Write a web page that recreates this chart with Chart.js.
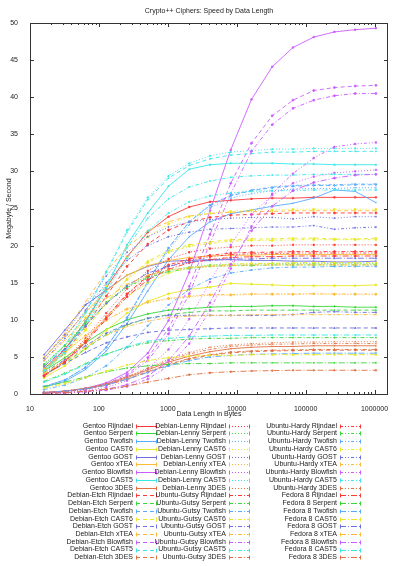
<!DOCTYPE html>
<html>
<head>
<meta charset="utf-8">
<script src="https://cdn.jsdelivr.net/npm/chart.js@4.4.1/dist/chart.umd.min.js"></script>
<style>
  html, body { margin: 0; padding: 0; background: #fff; }
</style>
</head>
<body>
<canvas id="chart" width="400" height="566"></canvas>
<script>
// =========================================================
// DATA
// =========================================================
const lengths = [16, 32, 64, 128, 256, 512, 1024, 2048, 4096, 8192, 16384, 32768, 65536, 131072, 262144, 524288, 1048576];
const xTickValues = [10, 100, 1000, 10000, 100000, 1000000];
const yTickValues = [0, 5, 10, 15, 20, 25, 30, 35, 40, 45, 50];

const distros = ["Gentoo", "Debian-Etch", "Debian-Lenny", "Ubuntu-Gutsy", "Ubuntu-Hardy", "Fedora 8"];
const ciphers = ["Rijndael", "Serpent", "Twofish", "CAST6", "GOST", "xTEA", "Blowfish", "CAST5", "3DES"];

// one row per cipher, in the order above (MB/s)
const gentoo = [
  [3.4, 6.0, 9.8, 14.3, 18.5, 21.8, 23.9, 25.2, 25.9, 26.1, 26.3, 26.4, 26.4, 26.5, 26.5, 26.5, 26.5],
  [3.1, 4.9, 6.9, 8.7, 10.0, 10.8, 11.3, 11.5, 11.7, 11.8, 11.8, 11.9, 11.9, 11.8, 11.8, 11.7, 11.7],
  [0.9, 1.7, 3.3, 5.8, 9.5, 13.9, 18.1, 21.2, 23.2, 24.3, 24.8, 25.3, 25.7, 26.4, 27.5, 27.3, 25.8],
  [2.2, 3.8, 6.1, 8.6, 10.9, 12.5, 13.5, 14.1, 14.4, 14.9, 14.8, 14.7, 14.6, 14.6, 14.6, 14.6, 14.7],
  [5.3, 8.6, 12.0, 14.0, 16.0, 17.2, 17.9, 18.0, 18.1, 18.1, 18.0, 18.0, 17.9, 17.9, 17.8, 17.8, 17.9],
  [4.9, 7.8, 11.0, 13.9, 16.0, 17.3, 18.0, 18.4, 18.6, 18.7, 18.7, 18.8, 18.8, 18.8, 18.8, 18.8, 18.8],
  [0.19, 0.38, 0.76, 1.5, 2.9, 5.5, 9.9, 16.4, 24.7, 32.9, 39.7, 44.1, 46.7, 48.1, 48.8, 49.1, 49.3],
  [3.2, 5.8, 9.6, 14.3, 20.1, 24.4, 28.0, 30.3, 30.9, 31.1, 31.1, 31.1, 31.0, 31.0, 30.9, 30.9, 30.9],
  [0.2, 0.38, 0.72, 1.3, 2.2, 3.25, 4.3, 5.1, 5.7, 6.1, 6.3, 6.4, 6.4, 6.5, 6.5, 6.5, 6.5]
];
const debianEtch = [
  [3.1, 5.6, 9.1, 13.2, 17.2, 20.2, 22.1, 23.2, 23.8, 24.1, 24.2, 24.3, 24.4, 24.4, 24.4, 24.4, 24.4],
  [2.6, 4.2, 6.1, 8.0, 9.3, 10.2, 10.7, 11.0, 11.2, 11.2, 11.3, 11.3, 11.3, 11.3, 11.3, 11.3, 11.3],
  [1.0, 1.9, 3.6, 6.3, 10.3, 15.1, 19.7, 23.2, 25.4, 26.7, 27.4, 27.8, 28.0, 28.1, 28.1, 28.2, 28.2],
  [3.2, 5.5, 8.7, 12.3, 15.5, 17.9, 19.3, 20.1, 20.5, 20.8, 20.9, 20.9, 21.0, 21.0, 20.9, 20.9, 21.0],
  [2.6, 4.1, 5.6, 6.9, 7.7, 8.3, 8.6, 8.7, 8.8, 8.9, 8.9, 8.9, 8.9, 8.9, 8.9, 8.9, 8.9],
  [4.9, 8.2, 12.4, 16.5, 19.8, 22.0, 23.2, 24.0, 24.3, 24.5, 24.6, 24.6, 24.7, 24.7, 24.7, 24.7, 24.7],
  [0.17, 0.35, 0.69, 1.35, 2.6, 4.9, 8.8, 14.5, 21.5, 28.4, 33.8, 37.5, 39.6, 40.9, 41.3, 41.5, 41.6],
  [3.6, 6.5, 10.9, 16.4, 21.8, 26.2, 29.1, 30.8, 31.7, 32.2, 32.4, 32.6, 32.6, 32.7, 32.7, 32.7, 32.7],
  [0.18, 0.35, 0.65, 1.2, 2.0, 2.95, 3.9, 4.7, 5.2, 5.55, 5.7, 5.8, 5.85, 5.9, 5.9, 5.9, 5.9]
];
const debianLenny = [
  [2.6, 4.6, 7.5, 10.9, 14.2, 16.6, 18.2, 19.1, 19.6, 19.8, 20.0, 20.0, 20.1, 20.1, 20.1, 20.1, 20.1],
  [4.0, 6.6, 9.6, 12.4, 14.5, 15.9, 16.7, 17.1, 17.4, 17.5, 17.5, 17.6, 17.6, 17.6, 17.6, 17.6, 17.6],
  [1.0, 1.9, 3.5, 6.2, 10.1, 14.9, 19.4, 22.8, 25.1, 26.4, 27.0, 27.4, 27.6, 27.7, 27.7, 27.8, 27.8],
  [3.7, 6.5, 10.3, 14.6, 18.4, 21.2, 22.9, 23.9, 24.4, 24.6, 24.8, 24.8, 24.9, 24.9, 24.9, 24.9, 24.9],
  [4.8, 8.0, 12.0, 15.9, 19.1, 21.2, 22.5, 23.2, 23.5, 23.7, 23.8, 23.8, 23.6, 23.9, 23.7, 23.9, 23.9],
  [3.5, 5.5, 7.9, 9.9, 11.4, 12.3, 12.8, 13.1, 13.3, 13.3, 13.4, 13.4, 13.4, 13.5, 13.4, 13.4, 13.4],
  [0.12, 0.24, 0.47, 0.9, 1.8, 3.4, 6.0, 10.1, 15.1, 20.1, 24.2, 26.8, 28.4, 29.3, 29.8, 30.0, 30.2],
  [3.7, 6.6, 11.0, 16.5, 22.1, 26.5, 29.4, 31.1, 32.1, 32.6, 32.8, 33.0, 33.0, 33.1, 33.1, 33.1, 33.1],
  [0.21, 0.42, 0.78, 1.4, 2.35, 3.5, 4.7, 5.6, 6.3, 6.6, 6.8, 6.9, 7.0, 7.0, 7.05, 7.05, 7.05]
];
const ubuntuGutsy = [
  [2.5, 4.4, 7.2, 10.4, 13.5, 15.9, 17.4, 18.2, 18.7, 19.0, 19.1, 19.1, 19.2, 19.2, 19.2, 19.2, 19.2],
  [1.7, 2.8, 4.1, 5.4, 6.3, 6.9, 7.2, 7.4, 7.5, 7.5, 7.6, 7.6, 7.6, 7.6, 7.6, 7.6, 7.6],
  [0.6, 1.2, 2.2, 3.8, 6.3, 9.2, 12.0, 14.1, 15.5, 16.3, 16.7, 17.0, 17.1, 17.1, 17.2, 17.2, 17.2],
  [2.7, 4.6, 7.3, 10.4, 13.1, 15.0, 16.3, 17.0, 17.3, 17.5, 17.6, 17.6, 17.7, 17.7, 17.7, 17.7, 17.7],
  [2.9, 4.6, 6.5, 8.2, 9.4, 10.2, 10.6, 10.6, 10.6, 10.6, 10.6, 10.6, 10.7, 11.0, 11.1, 11.0, 11.0],
  [2.8, 4.4, 6.3, 7.9, 9.1, 9.8, 10.3, 10.5, 10.6, 10.6, 10.7, 10.7, 10.7, 10.7, 10.7, 10.7, 10.7],
  [0.16, 0.32, 0.62, 1.2, 2.4, 4.5, 8.1, 13.5, 20.3, 27.0, 32.7, 36.3, 38.5, 39.6, 40.2, 40.5, 40.5],
  [3.3, 5.9, 9.9, 14.8, 19.7, 23.7, 26.3, 27.9, 28.7, 29.2, 29.4, 29.5, 29.5, 29.6, 29.6, 29.6, 29.6],
  [0.18, 0.35, 0.67, 1.2, 2.0, 3.0, 4.0, 4.8, 5.3, 5.65, 5.8, 5.9, 5.95, 6.0, 6.0, 6.0, 6.0]
];
const ubuntuHardy = [
  [2.5, 4.3, 7.1, 10.3, 13.4, 15.7, 17.2, 18.0, 18.5, 18.8, 18.9, 18.9, 19.0, 19.0, 19.0, 19.0, 19.0],
  [4.0, 6.5, 9.4, 12.2, 14.4, 15.7, 16.5, 16.9, 17.2, 17.3, 17.3, 17.4, 17.4, 17.4, 17.4, 17.4, 17.4],
  [1.0, 1.9, 3.6, 6.3, 10.3, 15.1, 19.7, 23.2, 25.5, 26.8, 27.5, 27.9, 28.1, 28.2, 28.2, 28.3, 28.3],
  [3.1, 5.4, 8.6, 12.2, 15.4, 17.7, 19.1, 19.9, 20.3, 20.6, 20.7, 20.7, 20.8, 20.8, 20.8, 20.8, 20.8],
  [4.5, 7.5, 11.3, 15.0, 18.0, 20.0, 21.2, 21.8, 22.2, 22.3, 22.4, 22.5, 22.5, 22.7, 22.2, 22.4, 22.5],
  [3.5, 5.6, 7.9, 10.0, 11.5, 12.4, 12.9, 13.2, 13.4, 13.4, 13.5, 13.5, 13.5, 13.5, 13.5, 13.5, 13.5],
  [0.07, 0.13, 0.26, 0.52, 1.0, 2.0, 3.8, 6.8, 11.3, 16.9, 22.6, 27.0, 29.7, 31.8, 33.3, 33.7, 33.9],
  [3.1, 5.5, 9.2, 13.8, 18.3, 22.0, 24.4, 25.9, 26.7, 27.1, 27.3, 27.4, 27.4, 27.5, 27.5, 27.5, 27.5],
  [0.2, 0.4, 0.75, 1.4, 2.3, 3.4, 4.5, 5.4, 6.0, 6.4, 6.6, 6.7, 6.75, 6.8, 6.8, 6.8, 6.8]
];
const fedora8 = [
  [2.4, 4.3, 6.9, 10.1, 13.1, 15.4, 16.8, 17.7, 18.1, 18.4, 18.5, 18.5, 18.6, 18.6, 18.6, 18.6, 18.6],
  [1.0, 1.6, 2.3, 3.0, 3.5, 3.8, 4.0, 4.1, 4.1, 4.2, 4.2, 4.2, 4.2, 4.2, 4.2, 4.2, 4.2],
  [0.19, 0.37, 0.69, 1.2, 2.0, 2.9, 3.8, 4.5, 5.0, 5.2, 5.35, 5.4, 5.45, 5.5, 5.5, 5.5, 5.5],
  [0.8, 1.4, 2.2, 3.1, 3.9, 4.5, 4.9, 5.1, 5.2, 5.2, 5.3, 5.3, 5.3, 5.3, 5.3, 5.3, 5.3],
  [3.7, 6.1, 9.2, 12.2, 14.6, 16.3, 17.2, 17.8, 18.0, 18.2, 18.2, 18.3, 18.3, 18.3, 18.3, 18.3, 18.3],
  [4.5, 7.2, 10.2, 12.9, 14.8, 16.0, 16.7, 17.0, 17.2, 17.3, 17.4, 17.4, 17.4, 17.4, 17.4, 17.4, 17.4],
  [0.08, 0.16, 0.33, 0.64, 1.25, 2.4, 4.5, 7.8, 12.3, 17.5, 22.0, 25.3, 27.4, 28.5, 29.1, 29.5, 29.6],
  [1.6, 2.65, 4.0, 5.3, 6.4, 7.1, 7.5, 7.7, 7.8, 7.9, 7.9, 7.95, 7.95, 7.95, 7.95, 7.95, 7.95],
  [0.1, 0.19, 0.36, 0.64, 1.07, 1.6, 2.1, 2.6, 2.85, 3.0, 3.1, 3.15, 3.2, 3.2, 3.2, 3.2, 3.2]
];

const distroSpeeds = [gentoo, debianEtch, debianLenny, ubuntuGutsy, ubuntuHardy, fedora8];

// =========================================================
// STYLE
// =========================================================
const cipherColors = ["#ff3838", "#38d838", "#5aaaff", "#e8e828", "#6e6ee0", "#ffbb38", "#cc5cff", "#38e8e8", "#e07040"];
const distroDashes = [[], [4, 3], [1, 2], [4, 2, 1, 2], [3, 2, 1, 2, 1, 2], [6, 2, 1, 2]];
const pointStyles = ["rect", "triangle", "crossRot", "circle", "cross", "rectRot"];
const FONT = '"Liberation Sans", Arial, sans-serif';

const datasets = [];
distros.forEach((d, di) => {
  ciphers.forEach((c, ci) => {
    const idx = datasets.length;
    datasets.push({
      label: d + " " + c,
      data: lengths.map((x, k) => ({ x, y: distroSpeeds[di][ci][k] })),
      borderColor: cipherColors[ci],
      backgroundColor: cipherColors[ci],
      borderWidth: 0.9,
      borderDash: distroDashes[di],
      pointRadius: 1,
      pointStyle: pointStyles[idx % pointStyles.length],
      pointBorderWidth: 0.8,
      tension: 0,
      order: -idx
    });
  });
});

// =========================================================
// PLUGINS: frame/ticks, title, legend
// =========================================================
const framePlugin = {
  id: "frame",
  beforeDatasetsDraw(chart) {
    const { ctx, chartArea: a, scales: { x, y } } = chart;
    ctx.save();
    ctx.strokeStyle = "#333";
    ctx.lineWidth = 1;
    ctx.strokeRect(a.left + 0.5, a.top + 0.5, a.right - a.left - 1, a.bottom - a.top);

    ctx.beginPath();
    yTickValues.forEach(v => {
      const py = Math.round(y.getPixelForValue(v)) + 0.5;
      ctx.moveTo(a.left, py); ctx.lineTo(a.left + 4, py);
      ctx.moveTo(a.right - 4, py); ctx.lineTo(a.right, py);
    });
    for (let dec = 10; dec <= 1000000; dec *= 10) {
      for (let m = 1; m <= 9; m++) {
        const v = m * dec;
        if (v > x.max) break;
        const px = Math.round(x.getPixelForValue(v)) + 0.5;
        const len = m === 1 ? 4 : 2;
        ctx.moveTo(px, a.bottom); ctx.lineTo(px, a.bottom - len);
        ctx.moveTo(px, a.top); ctx.lineTo(px, a.top + len);
      }
    }
    ctx.stroke();
    ctx.restore();
  },
  afterDraw(chart) {
    const { ctx, chartArea: a } = chart;
    ctx.save();
    ctx.fillStyle = "#222";
    ctx.font = "7px " + FONT;
    ctx.textAlign = "center";
    ctx.textBaseline = "middle";
    ctx.fillText("Crypto++ Ciphers: Speed by Data Length", (a.left + a.right) / 2, 11.5);

    // legend: 3 columns x 18 rows, text right aligned, sample on the right
    const colRight = [133, 226, 337];
    ctx.textAlign = "right";
    chart.data.datasets.forEach((ds, i) => {
      const col = Math.floor(i / 18), row = i % 18;
      const ty = 425.7 + row * 7.74;
      ctx.fillStyle = "#222";
      ctx.fillText(ds.label, colRight[col], ty);
      const x0 = colRight[col] + 3, x1 = x0 + 21, ly = Math.round(ty) + 0.5;
      ctx.strokeStyle = ds.borderColor;
      ctx.lineWidth = 1;
      ctx.setLineDash(ds.borderDash);
      ctx.beginPath(); ctx.moveTo(x0, ly); ctx.lineTo(x1, ly); ctx.stroke();
      ctx.setLineDash([]);
      ctx.beginPath();
      ctx.moveTo(x0 + 0.5, ly - 2); ctx.lineTo(x0 + 0.5, ly + 2);
      ctx.moveTo(x1 - 0.5, ly - 2); ctx.lineTo(x1 - 0.5, ly + 2);
      ctx.stroke();
    });
    ctx.restore();
  }
};

// =========================================================
// CHART
// =========================================================
new Chart(document.getElementById("chart"), {
  type: "line",
  data: { datasets },
  options: {
    responsive: false,
    animation: false,
    devicePixelRatio: 1,
    layout: { padding: { top: 23, right: 12, bottom: 146, left: 0 } },
    plugins: {
      legend: { display: false },
      title: { display: false },
      tooltip: { enabled: false }
    },
    scales: {
      x: {
        type: "logarithmic",
        min: 10,
        max: 1570000,
        grid: { display: false },
        border: { display: false },
        afterBuildTicks: s => { s.ticks = xTickValues.map(v => ({ value: v })); },
        afterFit: s => { s.height = 26; },
        ticks: {
          color: "#222",
          font: { family: FONT, size: 7 },
          padding: 3,
          maxRotation: 0,
          autoSkip: false,
          callback: v => String(v)
        },
        title: {
          display: true,
          text: "Data Length in Bytes",
          color: "#222",
          font: { family: FONT, size: 7 },
          padding: { top: 0, bottom: 2 }
        }
      },
      y: {
        min: 0,
        max: 50,
        grid: { display: false },
        border: { display: false },
        afterBuildTicks: s => { s.ticks = yTickValues.map(v => ({ value: v })); },
        afterFit: s => { s.width = 30; },
        ticks: {
          color: "#222",
          font: { family: FONT, size: 7 },
          padding: 4
        },
        title: {
          display: true,
          text: "Megabyte / Second",
          color: "#222",
          font: { family: FONT, size: 7 },
          padding: { top: 5, bottom: 0 }
        }
      }
    }
  },
  plugins: [framePlugin]
});
</script>
</body>
</html>
